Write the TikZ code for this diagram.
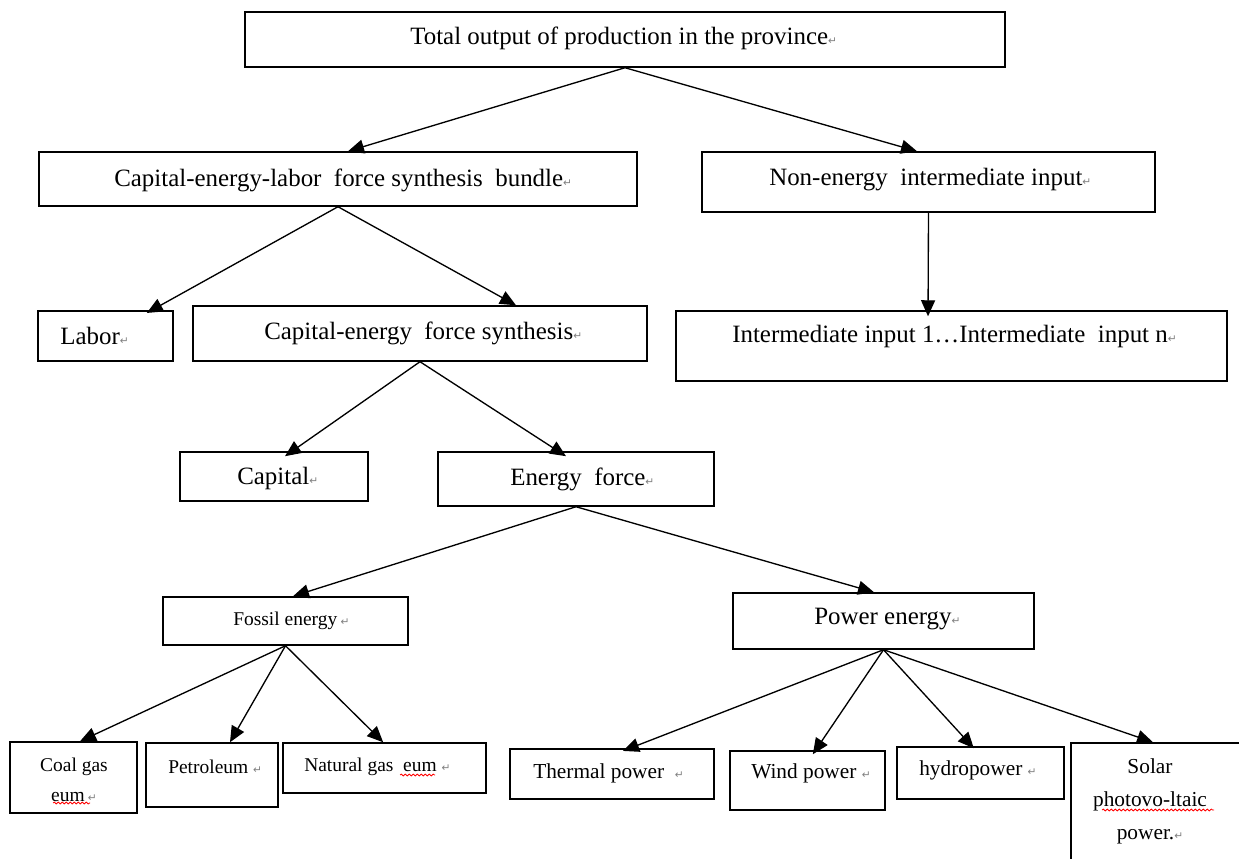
\documentclass[tikz,border=0pt]{standalone}
\usepackage{fontspec}
\setmainfont{Liberation Serif}
\newfontfamily\markfont{DejaVu Sans}
\usetikzlibrary{arrows.meta,decorations.pathmorphing}
\newcommand{\pmark}{{\markfont\fontsize{8}{8}\selectfont\textcolor{gray}{↵}}}
\tikzset{
  box/.style={draw, line width=1.1pt, inner sep=0pt},
  arr/.style={line width=1pt, -{Triangle[length=12pt,width=10.5pt]}},
  big/.style={font=\fontsize{18.7}{22}\selectfont},
  mid/.style={font=\fontsize{16}{24.75}\selectfont},
  sml/.style={font=\fontsize{14.6}{22.5}\selectfont},
  squig/.style={red, line width=0.6pt, decorate, decoration={snake, amplitude=0.7pt, segment length=3pt}}
}
\begin{document}
\begin{tikzpicture}[x=0.75pt,y=0.75pt,yscale=-1,xscale=1]
\path[use as bounding box, fill=white] (0,0) rectangle (1239,859);

% Boxes
\node [box, minimum width=570pt, minimum height=41.25pt] (total) at (625,39.5) {};
\node [box, minimum width=448.5pt, minimum height=40.5pt] (cel) at (338,179) {};
\node [box, minimum width=339.75pt, minimum height=45pt] (nonenergy) at (928.5,182) {};
\node [box, minimum width=101.25pt, minimum height=37.5pt] (labor) at (105.5,336) {};
\node [box, minimum width=340.5pt, minimum height=41.25pt] (ces) at (420,333.5) {};
\node [box, minimum width=413.25pt, minimum height=52.5pt] (inter) at (951.5,346) {};
\node [box, minimum width=141pt, minimum height=36.75pt] (capital) at (274,476.5) {};
\node [box, minimum width=207pt, minimum height=40.5pt] (energy) at (576,479) {};
\node [box, minimum width=183.75pt, minimum height=36pt] (fossil) at (285.5,621) {};
\node [box, minimum width=225.75pt, minimum height=42pt] (power) at (883.5,621) {};
\node [box, minimum width=95.25pt, minimum height=53.25pt] (coal) at (73.5,777.5) {};
\node [box, minimum width=99pt, minimum height=48pt] (petroleum) at (212,775) {};
\node [box, minimum width=152.25pt, minimum height=37.5pt] (natural) at (384.5,768) {};
\node [box, minimum width=153pt, minimum height=37.5pt] (thermal) at (612,774) {};
\node [box, minimum width=116.25pt, minimum height=44.25pt] (wind) at (807.5,780.5) {};
\node [box, minimum width=125.25pt, minimum height=39pt] (hydro) at (980.5,773) {};
\node [box, minimum width=134.25pt, minimum height=95.25pt] (solar) at (1160.5,806.5) {};

% Text Node
\draw (409,38) node [anchor=west][inner sep=0.75pt] [big] (t-total) {Total output of production in the province\pmark};
% Text Node
\draw (113,180) node [anchor=west][inner sep=0.75pt] [big] (t-cel) {Capital-energy-labor~ force synthesis~ bundle\pmark};
% Text Node
\draw (768,180) node [anchor=west][inner sep=0.75pt] [big] (t-nonenergy) {Non-energy~ intermediate input\pmark};
% Text Node
\draw (59,336) node [anchor=west][inner sep=0.75pt] [big] (t-labor) {Labor\pmark};
% Text Node
\draw (263,333) node [anchor=west][inner sep=0.75pt] [big] (t-ces) {Capital-energy~ force synthesis\pmark};
% Text Node
\draw (731,337) node [anchor=west][inner sep=0.75pt] [big] (t-inter) {Intermediate input 1…Intermediate~ input n\pmark};
% Text Node
\draw (236,479) node [anchor=west][inner sep=0.75pt] [big] (t-capital) {Capital\pmark};
% Text Node
\draw (509,479) node [anchor=west][inner sep=0.75pt] [big] (t-energy) {Energy~ force\pmark};
% Text Node
\draw (232,621) node [anchor=west][inner sep=0.75pt] [sml] (t-fossil) {Fossil energy\,\pmark};
% Text Node
\draw (813,619) node [anchor=west][inner sep=0.75pt] [big] (t-power) {Power energy\pmark};
% Text Node
\draw (74,780) node [inner sep=0.75pt] [sml] [align=center] (t-coal) {Coal gas\\ eum\,\pmark};
% Text Node
\draw (167,767) node [anchor=west][inner sep=0.75pt] [sml] (t-petroleum) {Petroleum \pmark};
% Text Node
\draw (303,767) node [anchor=west][inner sep=0.75pt] [sml] (t-natural) {Natural gas~ eum \pmark};
% Text Node
\draw (532,773) node [anchor=west][inner sep=0.75pt] [mid] (t-thermal) {Thermal power~ \pmark};
% Text Node
\draw (750,773) node [anchor=west][inner sep=0.75pt] [mid] (t-wind) {Wind power \pmark};
% Text Node
\draw (918,770) node [anchor=west][inner sep=0.75pt] [mid] (t-hydro) {hydropower \pmark};
% Text Node
\draw (1150,801.5) node [inner sep=0.75pt] [mid] [align=center] (t-solar) {Solar\\ photovo-ltaic\\ power.\pmark};

% spell-check marks
\draw [squig] (53,803) -- (90,803);
\draw [squig] (400,775) -- (435,775);
\draw [squig] (1102,810) -- (1214,810);

% Connectors
\draw [arr] (total.south) -- ([xshift=7.5pt]cel.north);
\draw [arr] (total.south) -- ([xshift=-8.6pt]nonenergy.north);
\draw [arr] (nonenergy.south) -- ([xshift=-17.6pt,yshift=4.5pt]inter.north);
\draw [arr] (cel.south) -- ([xshift=31pt,yshift=2pt]labor.north);
\draw [arr] (cel.south) -- ([xshift=72pt]ces.north);
\draw [arr] (ces.south) -- ([xshift=8.25pt,yshift=3.7pt]capital.north);
\draw [arr] (ces.south) -- ([xshift=-7.5pt,yshift=3.7pt]energy.north);
\draw [arr] (energy.south) -- ([xshift=5.6pt]fossil.north);
\draw [arr] (energy.south) -- ([xshift=-7.1pt]power.north);
\draw [arr] (fossil.south) -- ([xshift=4.9pt]coal.north);
\draw [arr] (fossil.south) -- ([xshift=13.5pt]petroleum.north);
\draw [arr] (fossil.south) -- ([xshift=-1pt]natural.north);
\draw [arr] (power.south) -- ([xshift=8.25pt,yshift=2pt]thermal.north);
\draw [arr] (power.south) -- ([xshift=4pt,yshift=3pt]wind.north);
\draw [arr] (power.south) -- ([xshift=-5pt,yshift=1.5pt]hydro.north);
\draw [arr] (power.south) -- ([xshift=-5.6pt]solar.north);

\end{tikzpicture}
\end{document}
